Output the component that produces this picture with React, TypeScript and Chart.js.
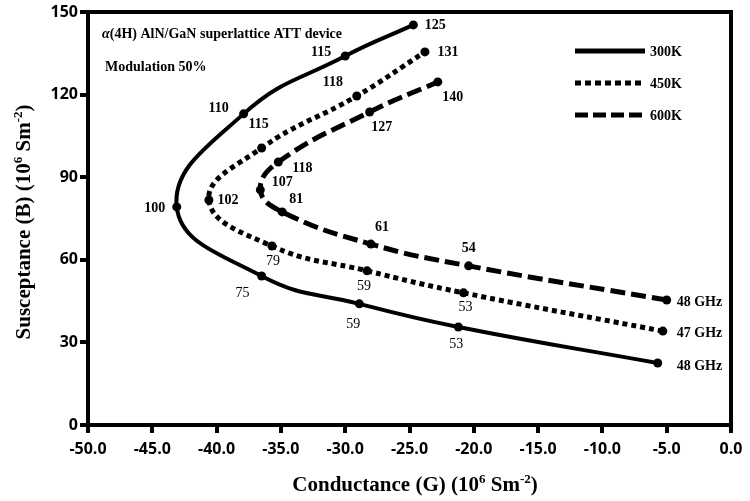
import React, { useEffect, useRef } from 'react';
import { Chart, registerables } from 'chart.js';

Chart.register(...registerables);

// ---- data ----
const seriesNames = ['300K', '450K', '600K'];

const g300 = [-5.7, -21.2, -28.9, -36.5, -43.1, -37.9, -30.0, -24.7];
const b300 = [22.5, 35.6, 44.0, 54.1, 79.2, 113.0, 134.0, 145.3];
const f300 = ['48 GHz', '53', '59', '75', '100', '110', '115', '125'];

const g450 = [-5.3, -20.8, -28.3, -35.7, -40.6, -36.5, -29.1, -23.8];
const b450 = [34.1, 48.0, 56.0, 65.0, 81.7, 100.6, 119.5, 135.5];
const f450 = ['47 GHz', '53', '59', '79', '102', '115', '118', '131'];

const g600 = [-5.0, -20.4, -28.0, -34.9, -36.6, -35.2, -28.1, -22.8];
const b600 = [45.4, 57.8, 65.7, 77.4, 85.4, 95.5, 113.7, 124.6];
const f600 = ['48 GHz', '54', '61', '81', '107', '118', '127', '140'];

const xMin = -50;
const xMax = 0;
const xStep = 5;
const yMin = 0;
const yMax = 150;
const yStep = 30;

const noteLine1 = 'AlN/GaN superlattice ATT device';
const noteLine2 = 'Modulation 50%';

// label placement relative to each point: [dx, dy, align, bold]
type LP = [number, number, CanvasTextAlign, boolean];
const lbl300: LP[] = [
  [19, 3, 'left', true], [-2, 17, 'center', false], [-6, 20, 'center', false], [-19, 17, 'center', false],
  [-22, 1, 'center', true], [-25, -5, 'center', true], [-24, -4, 'center', true], [22, 0, 'center', true],
];
const lbl450: LP[] = [
  [14, 2, 'left', true], [2, 14, 'center', false], [-3, 16, 'center', false], [1, 15, 'center', false],
  [19, 0, 'center', true], [-3, -24, 'center', true], [-24, -14, 'center', true], [23, 0, 'center', true],
];
const lbl600: LP[] = [
  [10, 2, 'left', true], [0, -17, 'center', true], [11, -17, 'center', true], [14, -13, 'center', true],
  [22, -7, 'center', true], [24, 6, 'center', true], [12, 15, 'center', true], [15, 15, 'center', true],
];

const dashes: number[][] = [[], [5, 4], [15, 6]];
const widths = [4, 5, 5];
const legendDashes: number[][] = [[], [6, 4], [13, 5]];

const SERIF = '"Liberation Serif", "Times New Roman", serif';

function drawRich(ctx: CanvasRenderingContext2D, parts: [string, boolean][], x: number, y: number, size: number) {
  const supSize = Math.round(size * 0.62);
  let total = 0;
  const ws = parts.map(([t, sup]) => {
    ctx.font = `bold ${sup ? supSize : size}px ${SERIF}`;
    const w = ctx.measureText(t).width;
    total += w;
    return w;
  });
  let cx = x - total / 2;
  ctx.textAlign = 'left';
  ctx.textBaseline = 'alphabetic';
  parts.forEach(([t, sup], i) => {
    ctx.font = `bold ${sup ? supSize : size}px ${SERIF}`;
    ctx.fillText(t, cx, y + size * 0.35 - (sup ? size * 0.38 : 0));
    cx += ws[i];
  });
}

const overlay = {
  id: 'overlay',
  afterDatasetsDraw(chart: any) {
    const ctx: CanvasRenderingContext2D = chart.ctx;
    const a = chart.chartArea;
    ctx.save();
    // box
    ctx.strokeStyle = '#000';
    ctx.lineWidth = 4;
    ctx.setLineDash([]);
    ctx.strokeRect(a.left, a.top, a.right - a.left, a.bottom - a.top);

    ctx.fillStyle = '#000';
    // point labels
    const labels = [f300, f450, f600];
    const lps = [lbl300, lbl450, lbl600];
    labels.forEach((arr, si) => {
      const meta = chart.getDatasetMeta(si);
      arr.forEach((t, j) => {
        const p = meta.data[j];
        const [dx, dy, al, bold] = lps[si][j];
        ctx.font = `${bold ? 'bold ' : ''}14px ${SERIF}`;
        ctx.textAlign = al;
        ctx.textBaseline = 'middle';
        ctx.fillText(t, p.x + dx, p.y + dy);
      });
    });

    // annotations
    ctx.textBaseline = 'middle';
    ctx.textAlign = 'left';
    ctx.font = `italic bold 14px ${SERIF}`;
    const ax = a.left + 14;
    ctx.fillText('α', ax, a.top + 22);
    const aw = ctx.measureText('α').width;
    ctx.font = `bold 14px ${SERIF}`;
    ctx.fillText('(4H) ' + noteLine1, ax + aw, a.top + 22);
    ctx.fillText(noteLine2, a.left + 17, a.top + 55);

    // legend
    seriesNames.forEach((n, i) => {
      const y = a.top + 39 + i * 32;
      ctx.beginPath();
      ctx.lineWidth = 5;
      ctx.setLineDash(legendDashes[i]);
      ctx.moveTo(a.left + 487, y);
      ctx.lineTo(a.left + 557, y);
      ctx.stroke();
      ctx.setLineDash([]);
      ctx.font = `bold 14px ${SERIF}`;
      ctx.textAlign = 'left';
      ctx.textBaseline = 'middle';
      ctx.fillText(n, a.left + 562, y + 1);
    });

    // axis titles
    drawRich(ctx, [['Conductance (G) (10', false], ['6', true], [' Sm', false], ['-2', true], [')', false]],
      415, 484, 21);
    ctx.save();
    ctx.translate(23, 222);
    ctx.rotate(-Math.PI / 2);
    drawRich(ctx, [['Susceptance (B) (10', false], ['6', true], [' Sm', false], ['-2', true], [')', false]], 0, 0, 21);
    ctx.restore();

    ctx.restore();
  },
};

export default function App() {
  const ref = useRef<HTMLCanvasElement>(null);
  useEffect(() => {
    document.body.style.margin = '0';
    const gs = [g300, g450, g600];
    const bs = [b300, b450, b600];
    const chart = new Chart(ref.current!, {
      type: 'scatter',
      data: {
        datasets: seriesNames.map((n, i) => ({
          label: n,
          data: gs[i].map((g, j) => ({ x: g, y: bs[i][j] })),
          showLine: true,
          tension: 0.45,
          borderColor: '#000',
          backgroundColor: '#000',
          borderWidth: widths[i],
          borderDash: dashes[i],
          borderCapStyle: 'butt' as const,
          pointRadius: 4.5,
          pointBackgroundColor: '#000',
          pointBorderColor: '#000',
          pointBorderWidth: 0,
        })),
      },
      options: {
        responsive: false,
        animation: false,
        devicePixelRatio: 1,
        layout: { padding: { top: 12, right: 19, left: 0, bottom: 0 } },
        plugins: { legend: { display: false }, tooltip: { enabled: false } },
        scales: {
          x: {
            type: 'linear',
            min: xMin,
            max: xMax,
            ticks: {
              stepSize: xStep,
              color: '#000',
              padding: 7,
              font: { family: '"Open Sans"', weight: 'bold', size: 16 },
              callback: (v: any) => Number(v).toFixed(1),
            },
            grid: { drawOnChartArea: false, drawTicks: true, tickLength: 8, lineWidth: 4, color: '#000' },
            border: { display: false },
            afterFit: (s: any) => { s.height = 76; },
          },
          y: {
            type: 'linear',
            min: yMin,
            max: yMax,
            ticks: {
              stepSize: yStep,
              color: '#000',
              padding: 2,
              font: { family: '"Open Sans"', weight: 'bold', size: 16 },
            },
            grid: { drawOnChartArea: false, drawTicks: true, tickLength: 8, lineWidth: 4, color: '#000' },
            border: { display: false },
            afterFit: (s: any) => { s.width = 88; },
          },
        },
      },
      plugins: [overlay],
    });
    return () => chart.destroy();
  }, []);
  return (
    <div style={{ width: 750, height: 501, background: '#fff' }}>
      <canvas ref={ref} width={750} height={501} />
    </div>
  );
}
